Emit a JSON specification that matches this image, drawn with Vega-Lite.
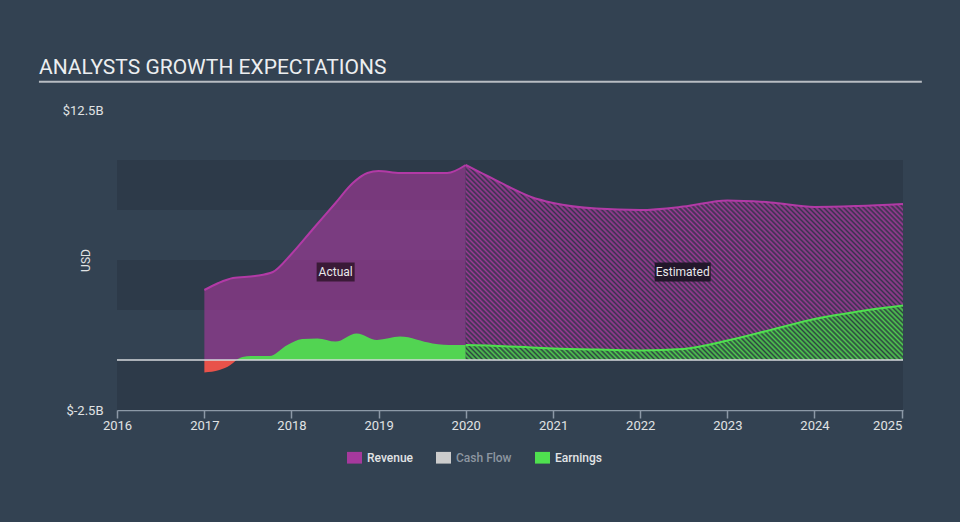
{
  "$schema": "https://vega.github.io/schema/vega-lite/v6.json",
  "width": 786,
  "height": 300,
  "autosize": {"type": "none"},
  "padding": {"left": 117, "top": 110, "right": 57, "bottom": 112},
  "background": "#334252",
  "config": {
    "view": {"stroke": null},
    "font": "Roboto"
  },
  "title": {
    "text": "ANALYSTS GROWTH EXPECTATIONS",
    "anchor": "start",
    "frame": "group",
    "dx": -78,
    "dy": 49,
    "offset": 35,
    "baseline": "alphabetic",
    "fontSize": 21,
    "fontWeight": "normal",
    "font": "Roboto",
    "color": "#eceef0"
  },
  "datasets": {
    "bands": [
      {"lo": -2.5, "hi": 0},
      {"lo": 2.5, "hi": 5},
      {"lo": 7.5, "hi": 10}
    ],
    "rev": [
      {"date": "2017-01-01", "value": 3.5},
      {"date": "2017-03-01", "value": 3.85},
      {"date": "2017-05-01", "value": 4.1},
      {"date": "2017-08-01", "value": 4.2},
      {"date": "2017-10-15", "value": 4.4},
      {"date": "2018-01-01", "value": 5.3},
      {"date": "2018-04-01", "value": 6.55},
      {"date": "2018-07-01", "value": 7.8},
      {"date": "2018-09-15", "value": 8.85},
      {"date": "2018-11-15", "value": 9.35},
      {"date": "2019-01-01", "value": 9.45},
      {"date": "2019-04-01", "value": 9.35},
      {"date": "2019-07-01", "value": 9.35},
      {"date": "2019-10-15", "value": 9.35},
      {"date": "2020-01-01", "value": 9.75}
    ],
    "est": [
      {"date": "2020-01-01", "rev": 9.75, "earn": 0.75},
      {"date": "2020-04-01", "rev": 9.2, "earn": 0.72},
      {"date": "2020-07-01", "rev": 8.65, "earn": 0.68},
      {"date": "2020-10-01", "rev": 8.15, "earn": 0.63},
      {"date": "2021-01-01", "rev": 7.85, "earn": 0.58},
      {"date": "2021-07-01", "rev": 7.57, "earn": 0.52},
      {"date": "2022-01-01", "rev": 7.5, "earn": 0.48},
      {"date": "2022-07-01", "rev": 7.67, "earn": 0.55},
      {"date": "2023-01-01", "rev": 7.98, "earn": 0.97},
      {"date": "2023-07-01", "rev": 7.88, "earn": 1.5},
      {"date": "2024-01-01", "rev": 7.65, "earn": 2.05},
      {"date": "2024-07-01", "rev": 7.7, "earn": 2.42},
      {"date": "2025-01-06", "rev": 7.8, "earn": 2.72}
    ],
    "earn": [
      {"date": "2017-05-15", "value": 0},
      {"date": "2017-06-10", "value": 0.15},
      {"date": "2017-07-15", "value": 0.2},
      {"date": "2017-10-01", "value": 0.2},
      {"date": "2017-12-15", "value": 0.75},
      {"date": "2018-02-15", "value": 1.05},
      {"date": "2018-04-20", "value": 1.08},
      {"date": "2018-07-05", "value": 0.92},
      {"date": "2018-10-01", "value": 1.33},
      {"date": "2018-12-25", "value": 1.0},
      {"date": "2019-04-01", "value": 1.17},
      {"date": "2019-08-15", "value": 0.83},
      {"date": "2019-11-15", "value": 0.75},
      {"date": "2020-01-01", "value": 0.75}
    ],
    "loss": [
      {"date": "2017-01-01", "value": -0.62},
      {"date": "2017-03-05", "value": -0.5},
      {"date": "2017-04-20", "value": -0.25},
      {"date": "2017-05-15", "value": 0}
    ],
    "labels": [
      {"date": "2018-07-05", "v": 4.4, "label": "Actual"},
      {"date": "2022-06-28", "v": 4.4, "label": "Estimated"}
    ],
    "one": [{}]
  },
  "layer": [
    {
      "data": {"name": "bands"},
      "mark": {"type": "rect", "color": "#2d3a49"},
      "encoding": {
        "y": {"field": "lo", "type": "quantitative", "scale": {"domain": [-2.5, 12.5]}, "title": "USD"},
        "y2": {"field": "hi"}
      }
    },
    {
      "data": {"name": "rev"},
      "mark": {"type": "area", "interpolate": "monotone", "fillOpacity": 0.62},
      "encoding": {
        "x": {
          "field": "date", "type": "temporal", "title": null,
          "scale": {"type": "utc", "domain": [{"year": 2016, "month": 1, "date": 1, "utc": true}, {"year": 2025, "month": 1, "date": 6, "utc": true}]},
          "axis": {
            "values": [
              {"year": 2016, "month": 1, "date": 1, "utc": true},
              {"year": 2017, "month": 1, "date": 1, "utc": true},
              {"year": 2018, "month": 1, "date": 1, "utc": true},
              {"year": 2019, "month": 1, "date": 1, "utc": true},
              {"year": 2020, "month": 1, "date": 1, "utc": true},
              {"year": 2021, "month": 1, "date": 1, "utc": true},
              {"year": 2022, "month": 1, "date": 1, "utc": true},
              {"year": 2023, "month": 1, "date": 1, "utc": true},
              {"year": 2024, "month": 1, "date": 1, "utc": true},
              {"year": 2025, "month": 1, "date": 1, "utc": true}
            ],
            "labelExpr": "utcFormat(datum.value, '%Y')",
            "labelAlign": {"condition": {"test": "utcyear(datum.value) >= 2025", "value": "right"}, "value": "center"},
            "labelFlush": false,
            "labelOverlap": false,
            "grid": false,
            "domainColor": "#8c99a7",
            "domainWidth": 1.5,
            "tickColor": "#8c99a7",
            "tickWidth": 1.5,
            "tickSize": 8,
            "labelColor": "#e0e2e4",
            "labelFontSize": 13,
            "labelPadding": 1
          }
        },
        "y": {
          "field": "value", "type": "quantitative", "scale": {"domain": [-2.5, 12.5]}, "title": "USD",
          "axis": {
            "values": [-2.5, 12.5],
            "labelExpr": "'$' + datum.value + 'B'",
            "domain": false,
            "ticks": false,
            "grid": false,
            "labelPadding": 14,
            "labelColor": "#e0e2e4",
            "labelFontSize": 13,
            "titleColor": "#e0e2e4",
            "titleFontSize": 12,
            "titleFontWeight": "normal",
            "titleX": -32,
            "titleY": 150,
            "titleAngle": 270,
            "titleAlign": "center",
            "titleBaseline": "middle"
          }
        },
        "color": {
          "datum": "Revenue", "type": "nominal",
          "scale": {"domain": ["Revenue", "Cash Flow", "Earnings"], "range": ["#a6399d", "#cccccc", "#4fe04f"]},
          "legend": {
            "title": null,
            "orient": "none",
            "legendX": 230,
            "legendY": 340,
            "direction": "horizontal",
            "symbolType": "M-1,-0.78H1V0.78H-1Z",
            "symbolSize": 225,
            "symbolStrokeWidth": 0,
            "symbolOpacity": 1,
            "labelFontSize": 12,
            "labelFontWeight": 500,
            "labelOffset": 5,
            "columnPadding": 23,
            "encode": {"labels": {"update": {"fill": {"signal": "datum.label === 'Cash Flow' ? '#8d96a0' : '#e2e4e6'"}}}}
          }
        }
      }
    },
    {
      "data": {"name": "est"},
      "mark": {
        "type": "area", "interpolate": "monotone",
        "fill": {
          "gradient": "linear", "x1": 0, "y1": 1, "x2": 1.207, "y2": 0.4884,
          "stops": [
            {"offset": 0, "color": "#9c3a95"}, {"offset": 0.004, "color": "#36344c"}, {"offset": 0.008, "color": "#9c3a95"}, {"offset": 0.012, "color": "#36344c"}, {"offset": 0.016, "color": "#9c3a95"}, {"offset": 0.02, "color": "#36344c"}, {"offset": 0.024, "color": "#9c3a95"}, {"offset": 0.028, "color": "#36344c"}, {"offset": 0.032, "color": "#9c3a95"}, {"offset": 0.036, "color": "#36344c"},
            {"offset": 0.04, "color": "#9c3a95"}, {"offset": 0.044, "color": "#36344c"}, {"offset": 0.048, "color": "#9c3a95"}, {"offset": 0.052, "color": "#36344c"}, {"offset": 0.056, "color": "#9c3a95"}, {"offset": 0.06, "color": "#36344c"}, {"offset": 0.064, "color": "#9c3a95"}, {"offset": 0.068, "color": "#36344c"}, {"offset": 0.072, "color": "#9c3a95"}, {"offset": 0.076, "color": "#36344c"},
            {"offset": 0.08, "color": "#9c3a95"}, {"offset": 0.084, "color": "#36344c"}, {"offset": 0.088, "color": "#9c3a95"}, {"offset": 0.092, "color": "#36344c"}, {"offset": 0.096, "color": "#9c3a95"}, {"offset": 0.1, "color": "#36344c"}, {"offset": 0.104, "color": "#9c3a95"}, {"offset": 0.108, "color": "#36344c"}, {"offset": 0.112, "color": "#9c3a95"}, {"offset": 0.116, "color": "#36344c"},
            {"offset": 0.12, "color": "#9c3a95"}, {"offset": 0.124, "color": "#36344c"}, {"offset": 0.128, "color": "#9c3a95"}, {"offset": 0.132, "color": "#36344c"}, {"offset": 0.136, "color": "#9c3a95"}, {"offset": 0.14, "color": "#36344c"}, {"offset": 0.144, "color": "#9c3a95"}, {"offset": 0.148, "color": "#36344c"}, {"offset": 0.152, "color": "#9c3a95"}, {"offset": 0.156, "color": "#36344c"},
            {"offset": 0.16, "color": "#9c3a95"}, {"offset": 0.164, "color": "#36344c"}, {"offset": 0.168, "color": "#9c3a95"}, {"offset": 0.172, "color": "#36344c"}, {"offset": 0.176, "color": "#9c3a95"}, {"offset": 0.18, "color": "#36344c"}, {"offset": 0.184, "color": "#9c3a95"}, {"offset": 0.188, "color": "#36344c"}, {"offset": 0.192, "color": "#9c3a95"}, {"offset": 0.196, "color": "#36344c"},
            {"offset": 0.2, "color": "#9c3a95"}, {"offset": 0.204, "color": "#36344c"}, {"offset": 0.208, "color": "#9c3a95"}, {"offset": 0.212, "color": "#36344c"}, {"offset": 0.216, "color": "#9c3a95"}, {"offset": 0.22, "color": "#36344c"}, {"offset": 0.224, "color": "#9c3a95"}, {"offset": 0.228, "color": "#36344c"}, {"offset": 0.232, "color": "#9c3a95"}, {"offset": 0.236, "color": "#36344c"},
            {"offset": 0.24, "color": "#9c3a95"}, {"offset": 0.244, "color": "#36344c"}, {"offset": 0.248, "color": "#9c3a95"}, {"offset": 0.252, "color": "#36344c"}, {"offset": 0.256, "color": "#9c3a95"}, {"offset": 0.26, "color": "#36344c"}, {"offset": 0.264, "color": "#9c3a95"}, {"offset": 0.268, "color": "#36344c"}, {"offset": 0.272, "color": "#9c3a95"}, {"offset": 0.276, "color": "#36344c"},
            {"offset": 0.28, "color": "#9c3a95"}, {"offset": 0.284, "color": "#36344c"}, {"offset": 0.288, "color": "#9c3a95"}, {"offset": 0.292, "color": "#36344c"}, {"offset": 0.296, "color": "#9c3a95"}, {"offset": 0.3, "color": "#36344c"}, {"offset": 0.304, "color": "#9c3a95"}, {"offset": 0.308, "color": "#36344c"}, {"offset": 0.312, "color": "#9c3a95"}, {"offset": 0.316, "color": "#36344c"},
            {"offset": 0.32, "color": "#9c3a95"}, {"offset": 0.324, "color": "#36344c"}, {"offset": 0.328, "color": "#9c3a95"}, {"offset": 0.332, "color": "#36344c"}, {"offset": 0.336, "color": "#9c3a95"}, {"offset": 0.34, "color": "#36344c"}, {"offset": 0.344, "color": "#9c3a95"}, {"offset": 0.348, "color": "#36344c"}, {"offset": 0.352, "color": "#9c3a95"}, {"offset": 0.356, "color": "#36344c"},
            {"offset": 0.36, "color": "#9c3a95"}, {"offset": 0.364, "color": "#36344c"}, {"offset": 0.368, "color": "#9c3a95"}, {"offset": 0.372, "color": "#36344c"}, {"offset": 0.376, "color": "#9c3a95"}, {"offset": 0.38, "color": "#36344c"}, {"offset": 0.384, "color": "#9c3a95"}, {"offset": 0.388, "color": "#36344c"}, {"offset": 0.392, "color": "#9c3a95"}, {"offset": 0.396, "color": "#36344c"},
            {"offset": 0.4, "color": "#9c3a95"}, {"offset": 0.404, "color": "#36344c"}, {"offset": 0.408, "color": "#9c3a95"}, {"offset": 0.412, "color": "#36344c"}, {"offset": 0.416, "color": "#9c3a95"}, {"offset": 0.42, "color": "#36344c"}, {"offset": 0.424, "color": "#9c3a95"}, {"offset": 0.428, "color": "#36344c"}, {"offset": 0.432, "color": "#9c3a95"}, {"offset": 0.436, "color": "#36344c"},
            {"offset": 0.44, "color": "#9c3a95"}, {"offset": 0.444, "color": "#36344c"}, {"offset": 0.448, "color": "#9c3a95"}, {"offset": 0.452, "color": "#36344c"}, {"offset": 0.456, "color": "#9c3a95"}, {"offset": 0.46, "color": "#36344c"}, {"offset": 0.464, "color": "#9c3a95"}, {"offset": 0.468, "color": "#36344c"}, {"offset": 0.472, "color": "#9c3a95"}, {"offset": 0.476, "color": "#36344c"},
            {"offset": 0.48, "color": "#9c3a95"}, {"offset": 0.484, "color": "#36344c"}, {"offset": 0.488, "color": "#9c3a95"}, {"offset": 0.492, "color": "#36344c"}, {"offset": 0.496, "color": "#9c3a95"}, {"offset": 0.5, "color": "#36344c"}, {"offset": 0.504, "color": "#9c3a95"}, {"offset": 0.508, "color": "#36344c"}, {"offset": 0.512, "color": "#9c3a95"}, {"offset": 0.516, "color": "#36344c"},
            {"offset": 0.52, "color": "#9c3a95"}, {"offset": 0.524, "color": "#36344c"}, {"offset": 0.528, "color": "#9c3a95"}, {"offset": 0.532, "color": "#36344c"}, {"offset": 0.536, "color": "#9c3a95"}, {"offset": 0.54, "color": "#36344c"}, {"offset": 0.544, "color": "#9c3a95"}, {"offset": 0.548, "color": "#36344c"}, {"offset": 0.552, "color": "#9c3a95"}, {"offset": 0.556, "color": "#36344c"},
            {"offset": 0.56, "color": "#9c3a95"}, {"offset": 0.564, "color": "#36344c"}, {"offset": 0.568, "color": "#9c3a95"}, {"offset": 0.572, "color": "#36344c"}, {"offset": 0.576, "color": "#9c3a95"}, {"offset": 0.58, "color": "#36344c"}, {"offset": 0.584, "color": "#9c3a95"}, {"offset": 0.588, "color": "#36344c"}, {"offset": 0.592, "color": "#9c3a95"}, {"offset": 0.596, "color": "#36344c"},
            {"offset": 0.6, "color": "#9c3a95"}, {"offset": 0.604, "color": "#36344c"}, {"offset": 0.608, "color": "#9c3a95"}, {"offset": 0.612, "color": "#36344c"}, {"offset": 0.616, "color": "#9c3a95"}, {"offset": 0.62, "color": "#36344c"}, {"offset": 0.624, "color": "#9c3a95"}, {"offset": 0.628, "color": "#36344c"}, {"offset": 0.632, "color": "#9c3a95"}, {"offset": 0.636, "color": "#36344c"},
            {"offset": 0.64, "color": "#9c3a95"}, {"offset": 0.644, "color": "#36344c"}, {"offset": 0.648, "color": "#9c3a95"}, {"offset": 0.652, "color": "#36344c"}, {"offset": 0.656, "color": "#9c3a95"}, {"offset": 0.66, "color": "#36344c"}, {"offset": 0.664, "color": "#9c3a95"}, {"offset": 0.668, "color": "#36344c"}, {"offset": 0.672, "color": "#9c3a95"}, {"offset": 0.676, "color": "#36344c"},
            {"offset": 0.68, "color": "#9c3a95"}, {"offset": 0.684, "color": "#36344c"}, {"offset": 0.688, "color": "#9c3a95"}, {"offset": 0.692, "color": "#36344c"}, {"offset": 0.696, "color": "#9c3a95"}, {"offset": 0.7, "color": "#36344c"}, {"offset": 0.704, "color": "#9c3a95"}, {"offset": 0.708, "color": "#36344c"}, {"offset": 0.712, "color": "#9c3a95"}, {"offset": 0.716, "color": "#36344c"},
            {"offset": 0.72, "color": "#9c3a95"}, {"offset": 0.724, "color": "#36344c"}, {"offset": 0.728, "color": "#9c3a95"}, {"offset": 0.732, "color": "#36344c"}, {"offset": 0.736, "color": "#9c3a95"}, {"offset": 0.74, "color": "#36344c"}, {"offset": 0.744, "color": "#9c3a95"}, {"offset": 0.748, "color": "#36344c"}, {"offset": 0.752, "color": "#9c3a95"}, {"offset": 0.756, "color": "#36344c"},
            {"offset": 0.76, "color": "#9c3a95"}, {"offset": 0.764, "color": "#36344c"}, {"offset": 0.768, "color": "#9c3a95"}, {"offset": 0.772, "color": "#36344c"}, {"offset": 0.776, "color": "#9c3a95"}, {"offset": 0.78, "color": "#36344c"}, {"offset": 0.784, "color": "#9c3a95"}, {"offset": 0.788, "color": "#36344c"}, {"offset": 0.792, "color": "#9c3a95"}, {"offset": 0.796, "color": "#36344c"},
            {"offset": 0.8, "color": "#9c3a95"}, {"offset": 0.804, "color": "#36344c"}, {"offset": 0.808, "color": "#9c3a95"}, {"offset": 0.812, "color": "#36344c"}, {"offset": 0.816, "color": "#9c3a95"}, {"offset": 0.82, "color": "#36344c"}, {"offset": 0.824, "color": "#9c3a95"}, {"offset": 0.828, "color": "#36344c"}, {"offset": 0.832, "color": "#9c3a95"}, {"offset": 0.836, "color": "#36344c"},
            {"offset": 0.84, "color": "#9c3a95"}, {"offset": 0.844, "color": "#36344c"}, {"offset": 0.848, "color": "#9c3a95"}, {"offset": 0.852, "color": "#36344c"}, {"offset": 0.856, "color": "#9c3a95"}, {"offset": 0.86, "color": "#36344c"}, {"offset": 0.864, "color": "#9c3a95"}, {"offset": 0.868, "color": "#36344c"}, {"offset": 0.872, "color": "#9c3a95"}, {"offset": 0.876, "color": "#36344c"},
            {"offset": 0.88, "color": "#9c3a95"}, {"offset": 0.884, "color": "#36344c"}, {"offset": 0.888, "color": "#9c3a95"}, {"offset": 0.892, "color": "#36344c"}, {"offset": 0.896, "color": "#9c3a95"}, {"offset": 0.9, "color": "#36344c"}, {"offset": 0.904, "color": "#9c3a95"}, {"offset": 0.908, "color": "#36344c"}, {"offset": 0.912, "color": "#9c3a95"}, {"offset": 0.916, "color": "#36344c"},
            {"offset": 0.92, "color": "#9c3a95"}, {"offset": 0.924, "color": "#36344c"}, {"offset": 0.928, "color": "#9c3a95"}, {"offset": 0.932, "color": "#36344c"}, {"offset": 0.936, "color": "#9c3a95"}, {"offset": 0.94, "color": "#36344c"}, {"offset": 0.944, "color": "#9c3a95"}, {"offset": 0.948, "color": "#36344c"}, {"offset": 0.952, "color": "#9c3a95"}, {"offset": 0.956, "color": "#36344c"},
            {"offset": 0.96, "color": "#9c3a95"}, {"offset": 0.964, "color": "#36344c"}, {"offset": 0.968, "color": "#9c3a95"}, {"offset": 0.972, "color": "#36344c"}, {"offset": 0.976, "color": "#9c3a95"}, {"offset": 0.98, "color": "#36344c"}, {"offset": 0.984, "color": "#9c3a95"}, {"offset": 0.988, "color": "#36344c"}, {"offset": 0.992, "color": "#9c3a95"}, {"offset": 0.996, "color": "#36344c"},
            {"offset": 1, "color": "#9c3a95"}
          ]
        }
      },
      "encoding": {
        "x": {"field": "date", "type": "temporal", "title": null, "scale": {"type": "utc", "domain": [{"year": 2016, "month": 1, "date": 1, "utc": true}, {"year": 2025, "month": 1, "date": 6, "utc": true}]}},
        "y": {"field": "rev", "type": "quantitative", "scale": {"domain": [-2.5, 12.5]}, "title": "USD"},
        "y2": {"field": "earn"}
      }
    },
    {
      "data": {"name": "earn"},
      "mark": {"type": "area", "interpolate": "monotone", "fillOpacity": 0.93},
      "encoding": {
        "x": {"field": "date", "type": "temporal", "title": null, "scale": {"type": "utc", "domain": [{"year": 2016, "month": 1, "date": 1, "utc": true}, {"year": 2025, "month": 1, "date": 6, "utc": true}]}},
        "y": {"field": "value", "type": "quantitative", "scale": {"domain": [-2.5, 12.5]}, "title": "USD"},
        "color": {"datum": "Earnings", "type": "nominal"}
      }
    },
    {
      "data": {"name": "loss"},
      "mark": {"type": "area", "interpolate": "monotone", "fill": "#e8524a"},
      "encoding": {
        "x": {"field": "date", "type": "temporal", "title": null, "scale": {"type": "utc", "domain": [{"year": 2016, "month": 1, "date": 1, "utc": true}, {"year": 2025, "month": 1, "date": 6, "utc": true}]}},
        "y": {"field": "value", "type": "quantitative", "scale": {"domain": [-2.5, 12.5]}, "title": "USD"}
      }
    },
    {
      "data": {"name": "est"},
      "mark": {
        "type": "area", "interpolate": "monotone",
        "fill": {
          "gradient": "linear", "x1": 0, "y1": 1, "x2": 1.1072, "y2": 0.8623,
          "stops": [
            {"offset": 0, "color": "#50cc50"}, {"offset": 0.005, "color": "#2d4540"}, {"offset": 0.01, "color": "#50cc50"}, {"offset": 0.015, "color": "#2d4540"}, {"offset": 0.02, "color": "#50cc50"}, {"offset": 0.025, "color": "#2d4540"}, {"offset": 0.03, "color": "#50cc50"}, {"offset": 0.035, "color": "#2d4540"}, {"offset": 0.04, "color": "#50cc50"}, {"offset": 0.045, "color": "#2d4540"},
            {"offset": 0.05, "color": "#50cc50"}, {"offset": 0.055, "color": "#2d4540"}, {"offset": 0.06, "color": "#50cc50"}, {"offset": 0.065, "color": "#2d4540"}, {"offset": 0.07, "color": "#50cc50"}, {"offset": 0.075, "color": "#2d4540"}, {"offset": 0.08, "color": "#50cc50"}, {"offset": 0.085, "color": "#2d4540"}, {"offset": 0.09, "color": "#50cc50"}, {"offset": 0.095, "color": "#2d4540"},
            {"offset": 0.1, "color": "#50cc50"}, {"offset": 0.105, "color": "#2d4540"}, {"offset": 0.11, "color": "#50cc50"}, {"offset": 0.115, "color": "#2d4540"}, {"offset": 0.12, "color": "#50cc50"}, {"offset": 0.125, "color": "#2d4540"}, {"offset": 0.13, "color": "#50cc50"}, {"offset": 0.135, "color": "#2d4540"}, {"offset": 0.14, "color": "#50cc50"}, {"offset": 0.145, "color": "#2d4540"},
            {"offset": 0.15, "color": "#50cc50"}, {"offset": 0.155, "color": "#2d4540"}, {"offset": 0.16, "color": "#50cc50"}, {"offset": 0.165, "color": "#2d4540"}, {"offset": 0.17, "color": "#50cc50"}, {"offset": 0.175, "color": "#2d4540"}, {"offset": 0.18, "color": "#50cc50"}, {"offset": 0.185, "color": "#2d4540"}, {"offset": 0.19, "color": "#50cc50"}, {"offset": 0.195, "color": "#2d4540"},
            {"offset": 0.2, "color": "#50cc50"}, {"offset": 0.205, "color": "#2d4540"}, {"offset": 0.21, "color": "#50cc50"}, {"offset": 0.215, "color": "#2d4540"}, {"offset": 0.22, "color": "#50cc50"}, {"offset": 0.225, "color": "#2d4540"}, {"offset": 0.23, "color": "#50cc50"}, {"offset": 0.235, "color": "#2d4540"}, {"offset": 0.24, "color": "#50cc50"}, {"offset": 0.245, "color": "#2d4540"},
            {"offset": 0.25, "color": "#50cc50"}, {"offset": 0.255, "color": "#2d4540"}, {"offset": 0.26, "color": "#50cc50"}, {"offset": 0.265, "color": "#2d4540"}, {"offset": 0.27, "color": "#50cc50"}, {"offset": 0.275, "color": "#2d4540"}, {"offset": 0.28, "color": "#50cc50"}, {"offset": 0.285, "color": "#2d4540"}, {"offset": 0.29, "color": "#50cc50"}, {"offset": 0.295, "color": "#2d4540"},
            {"offset": 0.3, "color": "#50cc50"}, {"offset": 0.305, "color": "#2d4540"}, {"offset": 0.31, "color": "#50cc50"}, {"offset": 0.315, "color": "#2d4540"}, {"offset": 0.32, "color": "#50cc50"}, {"offset": 0.325, "color": "#2d4540"}, {"offset": 0.33, "color": "#50cc50"}, {"offset": 0.335, "color": "#2d4540"}, {"offset": 0.34, "color": "#50cc50"}, {"offset": 0.345, "color": "#2d4540"},
            {"offset": 0.35, "color": "#50cc50"}, {"offset": 0.355, "color": "#2d4540"}, {"offset": 0.36, "color": "#50cc50"}, {"offset": 0.365, "color": "#2d4540"}, {"offset": 0.37, "color": "#50cc50"}, {"offset": 0.375, "color": "#2d4540"}, {"offset": 0.38, "color": "#50cc50"}, {"offset": 0.385, "color": "#2d4540"}, {"offset": 0.39, "color": "#50cc50"}, {"offset": 0.395, "color": "#2d4540"},
            {"offset": 0.4, "color": "#50cc50"}, {"offset": 0.405, "color": "#2d4540"}, {"offset": 0.41, "color": "#50cc50"}, {"offset": 0.415, "color": "#2d4540"}, {"offset": 0.42, "color": "#50cc50"}, {"offset": 0.425, "color": "#2d4540"}, {"offset": 0.43, "color": "#50cc50"}, {"offset": 0.435, "color": "#2d4540"}, {"offset": 0.44, "color": "#50cc50"}, {"offset": 0.445, "color": "#2d4540"},
            {"offset": 0.45, "color": "#50cc50"}, {"offset": 0.455, "color": "#2d4540"}, {"offset": 0.46, "color": "#50cc50"}, {"offset": 0.465, "color": "#2d4540"}, {"offset": 0.47, "color": "#50cc50"}, {"offset": 0.475, "color": "#2d4540"}, {"offset": 0.48, "color": "#50cc50"}, {"offset": 0.485, "color": "#2d4540"}, {"offset": 0.49, "color": "#50cc50"}, {"offset": 0.495, "color": "#2d4540"},
            {"offset": 0.5, "color": "#50cc50"}, {"offset": 0.505, "color": "#2d4540"}, {"offset": 0.51, "color": "#50cc50"}, {"offset": 0.515, "color": "#2d4540"}, {"offset": 0.52, "color": "#50cc50"}, {"offset": 0.525, "color": "#2d4540"}, {"offset": 0.53, "color": "#50cc50"}, {"offset": 0.535, "color": "#2d4540"}, {"offset": 0.54, "color": "#50cc50"}, {"offset": 0.545, "color": "#2d4540"},
            {"offset": 0.55, "color": "#50cc50"}, {"offset": 0.555, "color": "#2d4540"}, {"offset": 0.56, "color": "#50cc50"}, {"offset": 0.565, "color": "#2d4540"}, {"offset": 0.57, "color": "#50cc50"}, {"offset": 0.575, "color": "#2d4540"}, {"offset": 0.58, "color": "#50cc50"}, {"offset": 0.585, "color": "#2d4540"}, {"offset": 0.59, "color": "#50cc50"}, {"offset": 0.595, "color": "#2d4540"},
            {"offset": 0.6, "color": "#50cc50"}, {"offset": 0.605, "color": "#2d4540"}, {"offset": 0.61, "color": "#50cc50"}, {"offset": 0.615, "color": "#2d4540"}, {"offset": 0.62, "color": "#50cc50"}, {"offset": 0.625, "color": "#2d4540"}, {"offset": 0.63, "color": "#50cc50"}, {"offset": 0.635, "color": "#2d4540"}, {"offset": 0.64, "color": "#50cc50"}, {"offset": 0.645, "color": "#2d4540"},
            {"offset": 0.65, "color": "#50cc50"}, {"offset": 0.655, "color": "#2d4540"}, {"offset": 0.66, "color": "#50cc50"}, {"offset": 0.665, "color": "#2d4540"}, {"offset": 0.67, "color": "#50cc50"}, {"offset": 0.675, "color": "#2d4540"}, {"offset": 0.68, "color": "#50cc50"}, {"offset": 0.685, "color": "#2d4540"}, {"offset": 0.69, "color": "#50cc50"}, {"offset": 0.695, "color": "#2d4540"},
            {"offset": 0.7, "color": "#50cc50"}, {"offset": 0.705, "color": "#2d4540"}, {"offset": 0.71, "color": "#50cc50"}, {"offset": 0.715, "color": "#2d4540"}, {"offset": 0.72, "color": "#50cc50"}, {"offset": 0.725, "color": "#2d4540"}, {"offset": 0.73, "color": "#50cc50"}, {"offset": 0.735, "color": "#2d4540"}, {"offset": 0.74, "color": "#50cc50"}, {"offset": 0.745, "color": "#2d4540"},
            {"offset": 0.75, "color": "#50cc50"}, {"offset": 0.755, "color": "#2d4540"}, {"offset": 0.76, "color": "#50cc50"}, {"offset": 0.765, "color": "#2d4540"}, {"offset": 0.77, "color": "#50cc50"}, {"offset": 0.775, "color": "#2d4540"}, {"offset": 0.78, "color": "#50cc50"}, {"offset": 0.785, "color": "#2d4540"}, {"offset": 0.79, "color": "#50cc50"}, {"offset": 0.795, "color": "#2d4540"},
            {"offset": 0.8, "color": "#50cc50"}, {"offset": 0.805, "color": "#2d4540"}, {"offset": 0.81, "color": "#50cc50"}, {"offset": 0.815, "color": "#2d4540"}, {"offset": 0.82, "color": "#50cc50"}, {"offset": 0.825, "color": "#2d4540"}, {"offset": 0.83, "color": "#50cc50"}, {"offset": 0.835, "color": "#2d4540"}, {"offset": 0.84, "color": "#50cc50"}, {"offset": 0.845, "color": "#2d4540"},
            {"offset": 0.85, "color": "#50cc50"}, {"offset": 0.855, "color": "#2d4540"}, {"offset": 0.86, "color": "#50cc50"}, {"offset": 0.865, "color": "#2d4540"}, {"offset": 0.87, "color": "#50cc50"}, {"offset": 0.875, "color": "#2d4540"}, {"offset": 0.88, "color": "#50cc50"}, {"offset": 0.885, "color": "#2d4540"}, {"offset": 0.89, "color": "#50cc50"}, {"offset": 0.895, "color": "#2d4540"},
            {"offset": 0.9, "color": "#50cc50"}, {"offset": 0.905, "color": "#2d4540"}, {"offset": 0.91, "color": "#50cc50"}, {"offset": 0.915, "color": "#2d4540"}, {"offset": 0.92, "color": "#50cc50"}, {"offset": 0.925, "color": "#2d4540"}, {"offset": 0.93, "color": "#50cc50"}, {"offset": 0.935, "color": "#2d4540"}, {"offset": 0.94, "color": "#50cc50"}, {"offset": 0.945, "color": "#2d4540"},
            {"offset": 0.95, "color": "#50cc50"}, {"offset": 0.955, "color": "#2d4540"}, {"offset": 0.96, "color": "#50cc50"}, {"offset": 0.965, "color": "#2d4540"}, {"offset": 0.97, "color": "#50cc50"}, {"offset": 0.975, "color": "#2d4540"}, {"offset": 0.98, "color": "#50cc50"}, {"offset": 0.985, "color": "#2d4540"}, {"offset": 0.99, "color": "#50cc50"}, {"offset": 0.995, "color": "#2d4540"},
            {"offset": 1, "color": "#50cc50"}
          ]
        }
      },
      "encoding": {
        "x": {"field": "date", "type": "temporal", "title": null, "scale": {"type": "utc", "domain": [{"year": 2016, "month": 1, "date": 1, "utc": true}, {"year": 2025, "month": 1, "date": 6, "utc": true}]}},
        "y": {"field": "earn", "type": "quantitative", "scale": {"domain": [-2.5, 12.5]}, "title": "USD"}
      }
    },
    {
      "data": {"name": "rev"},
      "mark": {"type": "line", "interpolate": "monotone", "stroke": "#b23aa6", "strokeWidth": 2},
      "encoding": {
        "x": {"field": "date", "type": "temporal", "title": null, "scale": {"type": "utc", "domain": [{"year": 2016, "month": 1, "date": 1, "utc": true}, {"year": 2025, "month": 1, "date": 6, "utc": true}]}},
        "y": {"field": "value", "type": "quantitative", "scale": {"domain": [-2.5, 12.5]}, "title": "USD"}
      }
    },
    {
      "data": {"name": "est"},
      "mark": {"type": "line", "interpolate": "monotone", "stroke": "#b23aa6", "strokeWidth": 2},
      "encoding": {
        "x": {"field": "date", "type": "temporal", "title": null, "scale": {"type": "utc", "domain": [{"year": 2016, "month": 1, "date": 1, "utc": true}, {"year": 2025, "month": 1, "date": 6, "utc": true}]}},
        "y": {"field": "rev", "type": "quantitative", "scale": {"domain": [-2.5, 12.5]}, "title": "USD"}
      }
    },
    {
      "data": {"name": "est"},
      "mark": {"type": "line", "interpolate": "monotone", "stroke": "#4fe04f", "strokeWidth": 2},
      "encoding": {
        "x": {"field": "date", "type": "temporal", "title": null, "scale": {"type": "utc", "domain": [{"year": 2016, "month": 1, "date": 1, "utc": true}, {"year": 2025, "month": 1, "date": 6, "utc": true}]}},
        "y": {"field": "earn", "type": "quantitative", "scale": {"domain": [-2.5, 12.5]}, "title": "USD"}
      }
    },
    {
      "data": {"name": "one"},
      "mark": {"type": "rule", "color": "#d6d9dc", "strokeWidth": 1.5},
      "encoding": {
        "y": {"datum": 0, "type": "quantitative", "scale": {"domain": [-2.5, 12.5]}, "title": "USD"}
      }
    },
    {
      "data": {"name": "labels"},
      "mark": {"type": "point", "filled": true, "opacity": 1, "strokeWidth": 0},
      "encoding": {
        "x": {"field": "date", "type": "temporal", "title": null, "scale": {"type": "utc", "domain": [{"year": 2016, "month": 1, "date": 1, "utc": true}, {"year": 2025, "month": 1, "date": 6, "utc": true}]}},
        "y": {"field": "v", "type": "quantitative", "scale": {"domain": [-2.5, 12.5]}, "title": "USD"},
        "shape": {"condition": {"test": "datum.label === 'Actual'", "value": "M-1,-0.5H1V0.5H-1Z"}, "value": "M-1,-0.34H1V0.34H-1Z"},
        "size": {"condition": {"test": "datum.label === 'Actual'", "value": 1444}, "value": 3136},
        "fill": {"condition": {"test": "datum.label === 'Actual'", "value": "#3a1a37"}, "value": "#22172a"}
      }
    },
    {
      "data": {"name": "labels"},
      "mark": {"type": "text", "fontSize": 12, "color": "#e8e8ea", "font": "Roboto"},
      "encoding": {
        "x": {"field": "date", "type": "temporal", "title": null, "scale": {"type": "utc", "domain": [{"year": 2016, "month": 1, "date": 1, "utc": true}, {"year": 2025, "month": 1, "date": 6, "utc": true}]}},
        "y": {"field": "v", "type": "quantitative", "scale": {"domain": [-2.5, 12.5]}, "title": "USD"},
        "text": {"field": "label"}
      }
    },
    {
      "data": {"name": "one"},
      "mark": {"type": "rule", "color": "#b8bdc3", "strokeWidth": 2},
      "encoding": {
        "x": {"datum": {"year": 2015, "month": 2, "date": 8, "utc": true}, "type": "temporal", "title": null, "scale": {"type": "utc", "domain": [{"year": 2016, "month": 1, "date": 1, "utc": true}, {"year": 2025, "month": 1, "date": 6, "utc": true}]}},
        "x2": {"datum": {"year": 2025, "month": 3, "date": 26, "utc": true}},
        "y": {"datum": 13.915, "type": "quantitative", "scale": {"domain": [-2.5, 12.5]}, "title": "USD"}
      }
    }
  ]
}
